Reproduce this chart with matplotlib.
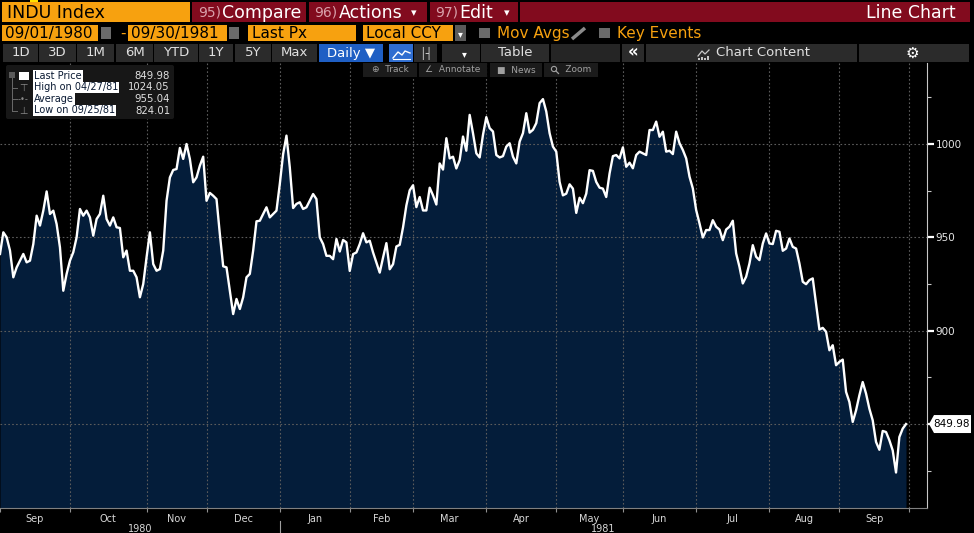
import matplotlib
matplotlib.use("Agg")
import matplotlib.pyplot as plt
import matplotlib.transforms as mtransforms
from matplotlib.patches import Rectangle, Polygon, FancyBboxPatch, Circle

# INDU daily closes 09/02/1980 - 09/30/1981, one per trading day
closes = [
    941.1, 952.7, 950.0, 942.9, 928.6, 933.9, 937.5, 941.1, 936.6, 937.5,
    946.4, 961.6, 956.3, 964.3, 974.6, 962.5, 964.3, 957.1, 944.6, 921.4,
    930.4, 937.5, 942.0, 950.0, 965.2, 961.6, 964.3, 960.7, 950.9, 959.8,
    962.5, 972.3, 959.8, 956.3, 960.7, 955.4, 955.0, 939.3, 942.9, 932.1,
    932.1, 928.6, 917.9, 925.0, 939.3, 952.7, 935.7, 932.1, 933.0, 942.9,
    969.6, 982.1, 986.1, 986.6, 997.9, 992.0, 1000.0, 992.0, 979.5, 982.1,
    988.4, 993.2, 969.6, 973.8, 972.3, 970.5, 951.8, 934.5, 933.9, 921.4,
    908.9, 917.0, 911.6, 917.9, 928.6, 930.4, 942.9, 958.6, 958.9, 962.5,
    966.1, 960.7, 962.5, 964.3, 978.6, 994.6, 1004.5, 987.5, 965.7, 967.9,
    968.8, 965.2, 966.1, 969.6, 973.2, 970.5, 950.0,
    946.4, 940.1, 940.1, 938.3, 949.1, 942.4, 948.6, 947.3, 932.0, 941.0,
    941.9, 946.4, 952.2, 947.3, 948.2, 941.9, 936.5, 931.1, 939.2, 946.9,
    932.9, 935.6, 945.1, 946.0, 955.4, 967.1, 975.2, 977.9, 966.2, 971.6,
    964.4, 964.4, 976.6, 972.5, 967.6, 989.6, 986.3, 1003.1, 992.3, 993.2,
    986.9, 991.4, 1004.0, 996.4, 1015.6, 1005.8, 995.0, 992.8, 1004.9, 1014.4,
    1008.5, 1006.7, 994.1, 992.8, 993.5, 998.6, 1000.4, 993.2, 989.6, 1001.3,
    1005.8, 1016.5, 1006.1, 1007.6, 1011.2, 1021.9, 1024.05, 1017.4, 1005.8, 998.6,
    995.9, 979.7, 972.5, 973.4, 978.4, 976.1, 963.1, 971.2, 968.3, 973.4,
    986.0, 985.6, 979.7, 976.6, 976.1, 971.6, 984.2, 993.5, 994.1, 992.3,
    998.2, 987.8, 990.0, 987.0, 994.1, 995.9, 995.0, 994.1, 1007.5, 1007.5,
    1012.0, 1003.9, 1006.6, 995.9, 996.4, 994.6, 1006.6, 1000.4, 996.8, 992.3,
    982.5, 976.2, 964.6, 957.5, 949.9, 953.9, 953.9, 959.2, 955.7, 954.2,
    948.5, 954.2, 955.7, 958.9, 941.4, 934.2, 925.3, 928.9, 936.0, 945.8,
    939.6, 937.8, 946.7, 952.1, 946.7, 946.4, 953.5, 953.0, 942.8, 944.0,
    949.4, 944.9, 944.0, 936.0, 926.2, 924.9, 927.1, 928.0, 914.5, 900.6,
    901.5, 899.4, 889.5, 892.2, 881.5, 883.3, 884.5, 867.2, 861.8, 851.1,
    857.3, 865.4, 872.5, 866.3, 858.2, 852.0, 840.4, 836.2, 846.3, 845.7,
    841.3, 835.9, 824.01, 843.0, 847.5, 849.98,
]

months = ["Sep", "Oct", "Nov", "Dec", "Jan", "Feb", "Mar", "Apr", "May", "Jun", "Jul", "Aug", "Sep"]
month_starts = [0, 21, 44, 62, 84, 105, 124, 146, 167, 187, 209, 231, 252, 273]
years = ["1980", "1981"]
year_starts = [0, 84, 278.3]
y_major = [850, 900, 950, 1000]
y_minor = [825, 875, 925, 975, 1025]

legend_rows = ["Last Price", "High on 04/27/81", "Average", "Low on 09/25/81"]
legend_vals = ["849.98", "1024.05", "955.04", "824.01"]

ORANGE = "#f7a10f"
RED = "#820b1e"
NAVY = "#041d3a"
BTN = "#2b2b2b"
GRID = "#5c5c5c"

fig = plt.figure(figsize=(9.74, 5.33), dpi=100, facecolor="black")

# main chart
ax = fig.add_axes([0, 25 / 533, 927 / 974, 445 / 533])
ax.set_facecolor("black")
days = list(range(len(closes)))
ax.set_xlim(0, 278.3)
ax.set_ylim(805.0, 1043.4)
ax.fill_between(days, closes, 805.0, color=NAVY, lw=0, zorder=1)
ax.plot(days, closes, color="white", lw=1.7, solid_joinstyle="round", zorder=3)

for v in y_major:
    ax.axhline(v, color=GRID, lw=0.8, ls=(0, (1.5, 2)), zorder=2)
for d in month_starts[1:]:
    ax.axvline(d, color=GRID, lw=0.8, ls=(0, (1.5, 2)), zorder=2)

for s in ["top", "left"]:
    ax.spines[s].set_visible(False)
ax.spines["right"].set_color("#c8c8c8")
ax.spines["bottom"].set_color("#808080")
ax.yaxis.tick_right()
ax.set_yticks(y_major)
ax.set_yticklabels(["" if v == 850 else str(v) for v in y_major])
ax.set_yticks(y_minor, minor=True)
ax.tick_params(axis="y", which="major", colors="white", length=5, width=1.6,
               labelsize=7.5, labelcolor="#e6e6e6", pad=1)
ax.tick_params(axis="y", which="minor", colors="#c8c8c8", length=3, width=0.8)
ax.set_xticks(month_starts)
ax.set_xticklabels([])
ax.tick_params(axis="x", colors="#909090", length=3, width=0.8)

tr = mtransforms.blended_transform_factory(ax.transData, ax.transAxes)
for i, m in enumerate(months):
    mid = (month_starts[i] + month_starts[i + 1]) / 2
    ax.text(mid, -0.024, m, transform=tr, ha="center", va="center",
            fontsize=7, color="#d8d8d8", clip_on=False)
for i, yname in enumerate(years):
    mid = (year_starts[i] + year_starts[i + 1]) / 2
    ax.text(mid, -0.047, yname, transform=tr, ha="center", va="center",
            fontsize=7, color="#d8d8d8", clip_on=False)
ax.plot([year_starts[1], year_starts[1]], [-0.03, -0.06], transform=tr,
        color="#a0a0a0", lw=0.8, clip_on=False)

# last price tag position in pixels
last = closes[-1]
ty_px = 533 - ax.transData.transform((0, last))[1]

# overlay in pixel coords for the terminal toolbar etc.
ov = fig.add_axes([0, 0, 1, 1], zorder=5)
ov.set_xlim(0, 974)
ov.set_ylim(533, 0)
ov.axis("off")
ov.patch.set_alpha(0)


def box(x0, x1, y0, y1, c, **kw):
    ov.add_patch(Rectangle((x0, y0), x1 - x0, y1 - y0, color=c, lw=0, **kw))


def txt(x, y, s, c="white", size=9, ha="left", **kw):
    ov.text(x, y, s, color=c, fontsize=size, ha=ha, va="center", **kw)


ov.add_patch(Polygon([[929, ty_px], [934, ty_px - 9], [971, ty_px - 9], [971, ty_px + 9],
                      [934, ty_px + 9]], closed=True, fc="white", ec="none"))
txt(952, ty_px, f"{last:.2f}", c="black", size=7.5, ha="center")

# row 1
box(2, 190, 2, 22, ORANGE)
box(30, 38, 0, 2, "#ffe000")
txt(7, 12.5, "INDU Index", c="black", size=12.5)
box(192, 306, 2, 22, RED)
txt(198, 12.5, "95)", c="#d9a1ab", size=10)
txt(222, 12.5, "Compare", size=12.5)
box(309, 427, 2, 22, RED)
txt(314, 12.5, "96)", c="#d9a1ab", size=10)
txt(339, 12.5, "Actions", size=12.5)
txt(414, 13, "\u25be", size=8, ha="center")
box(430, 518, 2, 22, RED)
txt(435, 12.5, "97)", c="#d9a1ab", size=10)
txt(459, 12.5, "Edit", size=12.5)
txt(507, 13, "\u25be", size=8, ha="center")
box(520, 970, 2, 22, RED)
txt(956, 12.5, "Line Chart", size=12.5, ha="right")

# row 2
box(2, 98, 25, 41, ORANGE)
txt(5, 33.5, "09/01/1980", c="black", size=11)
box(101, 111, 27, 39, "#6a6a6a")
txt(123, 33, "-", c=ORANGE, size=11, ha="center")
box(128, 227, 25, 41, ORANGE)
txt(131, 33.5, "09/30/1981", c="black", size=11)
box(229, 239, 27, 39, "#6a6a6a")
box(248, 356, 25, 41, ORANGE)
txt(252, 33.5, "Last Px", c="black", size=11)
box(363, 453, 25, 41, ORANGE)
txt(366, 33.5, "Local CCY", c="black", size=11)
box(455, 466, 25, 41, "#5a5a5a")
txt(460.5, 34, "\u25be", size=7, ha="center")
box(479, 490, 28, 38, "#6a6a6a")
txt(497, 33.5, "Mov Avgs", c=ORANGE, size=11)
ov.plot([572, 585], [39, 28], color="#8a8a8a", lw=2.5, solid_capstyle="butt")
box(599, 610, 28, 38, "#6a6a6a")
txt(617, 33.5, "Key Events", c=ORANGE, size=11)

# row 3
buttons = [(3, 38, "1D"), (39, 76, "3D"), (77, 114, "1M"), (116, 153, "6M"),
           (154, 198, "YTD"), (199, 233, "1Y"), (235, 271, "5Y"), (272, 317, "Max")]
for x0, x1, lab in buttons:
    box(x0, x1, 44, 62, BTN)
    txt((x0 + x1) / 2, 53, lab, c="#e0e0e0", size=9.5, ha="center")
box(319, 383, 44, 62, "#1f5fc4")
txt(351, 53, "Daily \u25bc", size=9.5, ha="center")
box(389, 413, 44, 62, "#2f6dd0")
ov.plot([393, 398, 402, 405, 410], [58, 52, 55, 51, 53], color="white", lw=1)
ov.plot([393, 410], [59, 59], color="white", lw=0.8)
box(414, 437, 44, 62, BTN)
txt(425.5, 53, "\u2502\u2524", c="#d0d0d0", size=8, ha="center")
box(442, 480, 44, 62, BTN)
txt(464, 54, "\u25be", size=7, ha="center")
box(481, 549, 44, 62, BTN)
txt(515, 53, "Table", c="#e0e0e0", size=9.5, ha="center")
box(551, 620, 44, 62, "#252525")
box(622, 644, 44, 62, BTN)
txt(633, 52.5, "\u00ab", size=12, ha="center", weight="bold")
box(646, 857, 44, 62, BTN)
ov.plot([698, 702, 705, 709], [56, 51, 54, 50], color="#c8c8c8", lw=0.9)
for bx, bh in zip([698, 701, 704, 707], [2, 3, 2, 4]):
    box(bx, bx + 2, 60 - bh, 60, "#c8c8c8")
txt(716, 53, "Chart Content", c="#e0e0e0", size=9.5)
box(859, 969, 44, 62, BTN)
txt(912, 53, "\u2699", size=11, ha="center")

# row 4 small toolbar
small = [(363, 417, "\u2295  Track"), (419, 487, "\u2220  Annotate"),
         (490, 542, "\u25a0  News"), (544, 598, "     Zoom")]
for x0, x1, lab in small:
    box(x0, x1, 63, 77, "#1b1b1b")
    txt((x0 + x1) / 2, 70, lab, c="#a0a0a0", size=6.5, ha="center")
# magnifier icon for Zoom
ov.add_patch(Circle((554, 69), 2.6, fc="none", ec="#a0a0a0", lw=0.8))
ov.plot([556, 558.5], [71, 73.5], color="#a0a0a0", lw=0.9)

# legend
ov.add_patch(FancyBboxPatch((6, 65), 168, 54, boxstyle="round,pad=0,rounding_size=2",
                            fc="#171717", ec="none"))
box(19, 29, 72, 80, "white")
box(9, 15, 72, 78, "#5a5a5a")
ov.plot([12, 12], [78, 111], color="#6a6a6a", lw=0.7)
row_y = [76, 87.5, 99, 110.5]
for i, (lab, val, yy) in enumerate(zip(legend_rows, legend_vals, row_y)):
    if i > 0:
        ov.plot([12, 17], [yy, yy], color="#6a6a6a", lw=0.7)
    ov.text(34, yy, lab, color="#0a1a33", fontsize=7, ha="left", va="center",
            bbox=dict(boxstyle="square,pad=0.1", fc="white", ec="none"))
    txt(170, yy, val, c="#e0e0e0", size=7.3, ha="right")
txt(23, 87.5, "\u22a4", c="#8a8a8a", size=7, ha="center")
txt(23, 99, "-\u2022-", c="#8a8a8a", size=6, ha="center")
txt(23, 110.5, "\u22a5", c="#8a8a8a", size=7, ha="center")

fig.savefig("out.png", dpi=100, facecolor="black")
